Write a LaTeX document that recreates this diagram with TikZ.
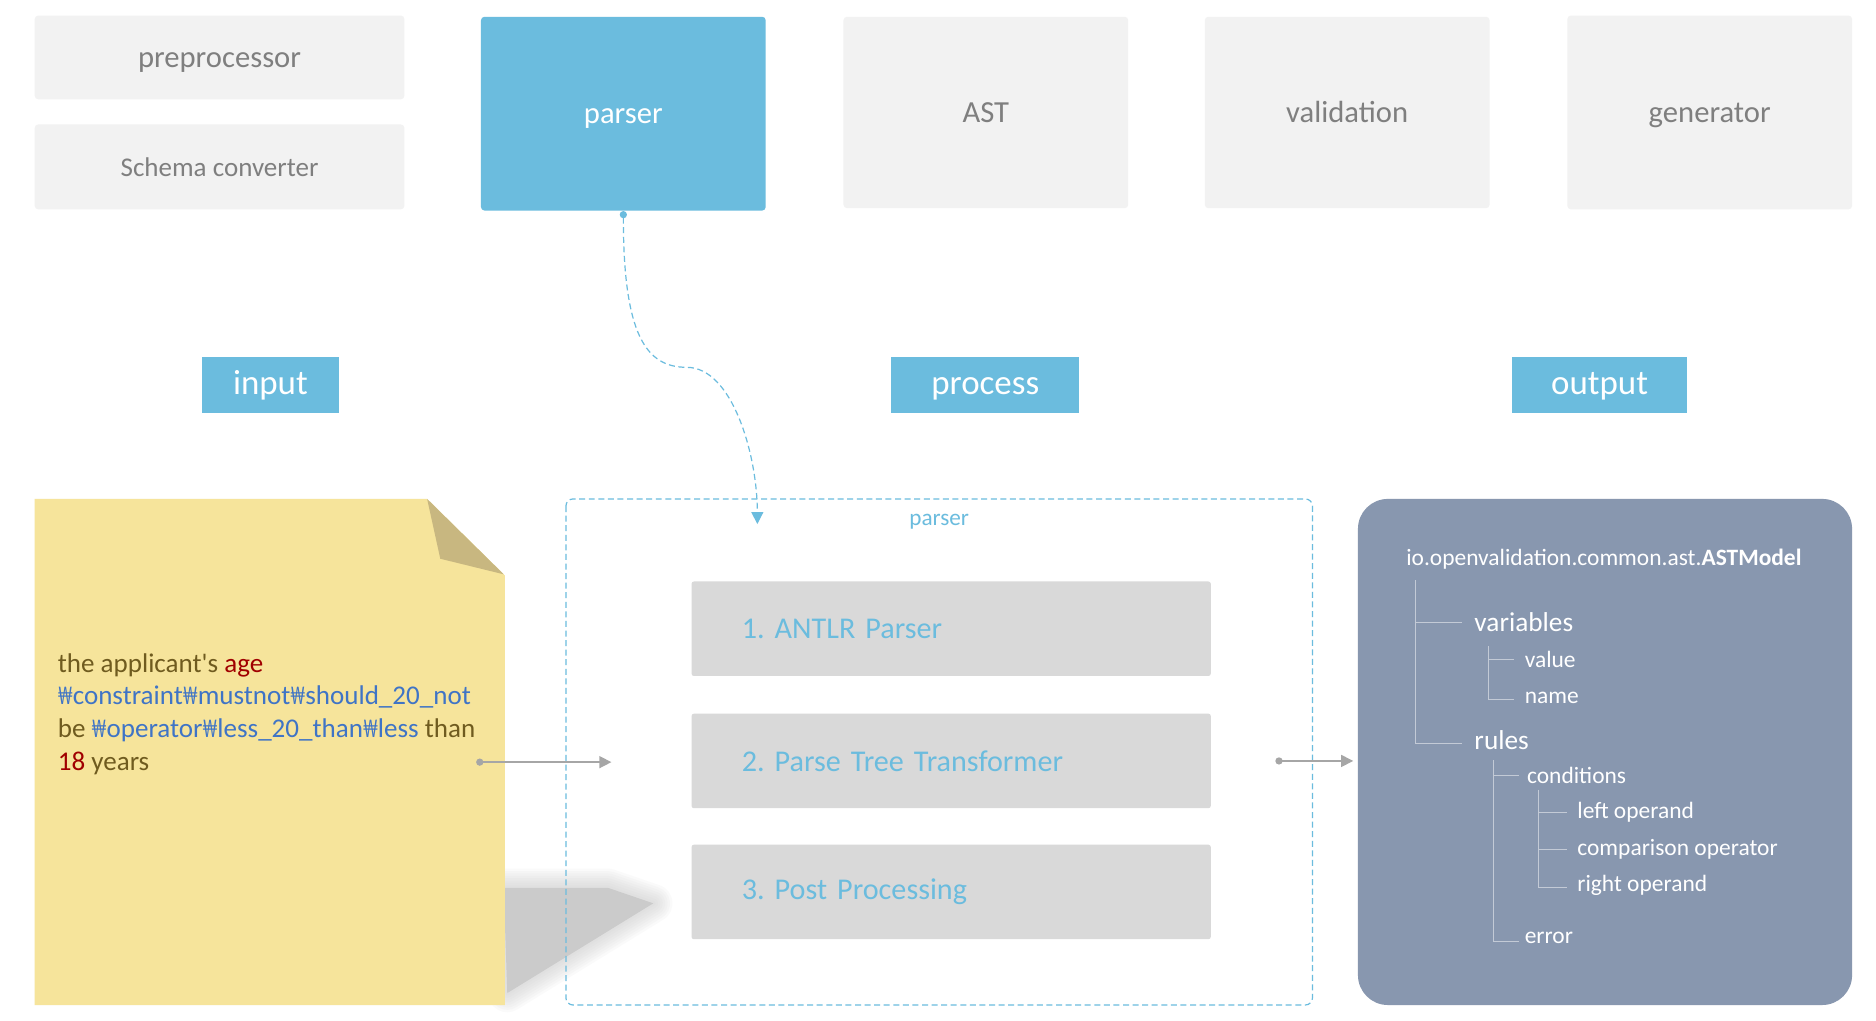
\documentclass[tikz,border=0pt]{standalone}
\usepackage{fontspec}
\usepackage{graphicx}
\setmainfont{Carlito}
\newfontfamily\plainfont{Carlito}
\usetikzlibrary{arrows.meta}
\frenchspacing
\newcommand{\wonsign}{\scalebox{0.62}[1]{₩}}
\definecolor{boxgray}{HTML}{F2F2F2}
\definecolor{txtgray}{HTML}{7F7F7F}
\definecolor{skyb}{HTML}{6BBCDE}
\definecolor{noteyel}{HTML}{F6E49B}
\definecolor{notefold}{HTML}{C8B780}
\definecolor{olivetxt}{HTML}{6F5B1F}
\definecolor{darkredtxt}{HTML}{A00000}
\definecolor{bluetxt}{HTML}{3F74C6}
\definecolor{stepgray}{HTML}{D9D9D9}
\definecolor{astbg}{HTML}{8897AF}
\definecolor{treeline}{HTML}{C3CAD6}
\definecolor{arrgray}{HTML}{A6A6A6}
\definecolor{shadowg}{HTML}{CBCBCB}
\tikzset{
  topbox/.style={fill=boxgray, rounded corners=1.5pt, text=txtgray, inner sep=0pt, text height=0.9em, text depth=0.1em, font=\fontsize{12.8}{15}\selectfont},
  hdrlabel/.style={fill=skyb, text=white, inner sep=0pt, minimum height=23.5pt, text height=0.9em, text depth=0.1em, font=\fontsize{14.6}{17}\selectfont},
  stepbox/.style={fill=stepgray, rounded corners=1pt, text=skyb, minimum height=39.5pt, text width=175pt, inner xsep=21pt, inner ysep=0pt, align=left, font=\fontsize{12.6}{15}\selectfont},
  notetext/.style={anchor=base west, inner sep=0pt, text=olivetxt, font=\plainfont\fontsize{11.3}{13.5}\selectfont},
  treetxt/.style={anchor=west, inner sep=0pt, text=white, font=\fontsize{9.8}{12}\selectfont},
  treebig/.style={treetxt, font=\fontsize{11.4}{14}\selectfont},
  treeln/.style={draw=treeline, line width=0.4pt},
  conn/.style={draw=arrgray, line width=0.6pt, {Circle[length=3pt]}-{Triangle[length=5pt,width=5pt]}},
  curvconn/.style={draw=skyb, line width=0.5pt, dash pattern=on 2.5pt off 1.5pt, {Circle[length=3pt]}-{Triangle[length=5pt,width=5pt]}},
}
\begin{document}
\begin{tikzpicture}[x=0.5pt,y=-0.5pt]
\useasboundingbox[fill=white] (0,0) rectangle (1568,852.6);
% top row
\node[topbox, minimum width=154.5pt, minimum height=35pt] (pre) at (183.5,48) {preprocessor};
\node[topbox, minimum width=154.5pt, minimum height=35.5pt, font=\fontsize{11.3}{14}\selectfont] (schema) at (183.5,139.5) {Schema converter};
\node[topbox, fill=skyb, text=white, minimum width=119pt, minimum height=81pt] (parser) at (521,95) {parser};
\node[topbox, minimum width=119pt, minimum height=80pt] (ast) at (824,94) {AST};
\node[topbox, minimum width=119pt, minimum height=80pt] (valid) at (1126,94) {validation};
\node[topbox, minimum width=119pt, minimum height=81pt] (gen) at (1429,94) {generator};
% section labels
\node[hdrlabel, minimum width=57pt] (input) at (226,321.5) {input};
\node[hdrlabel, minimum width=78.5pt] (process) at (823.5,321.5) {process};
\node[hdrlabel, minimum width=73pt] (output) at (1337,321.5) {output};
% shadow of the note (soft edge)
\foreach \w in {16,14,...,2}{
  \draw[shadowg, line width=\w pt, line join=round, opacity=0.09] (421,742) -- (508,742) -- (546,755) -- (424,830) -- cycle;
}
\fill[shadowg] (421,742) -- (508,742) -- (546,755) -- (424,830) -- cycle;
% note
\fill[noteyel] (29,417) -- (357,417) -- (422,481) -- (422,840) -- (29,840) -- cycle;
\fill[notefold] (357,417) -- (368,467) -- (421,480) -- cycle;
\node[notetext] (l1) at (48,562) {the applicant's \textcolor{darkredtxt}{age}};
\node[notetext, text=bluetxt] (l2) at (48,589) {\wonsign constraint\wonsign mustnot\wonsign should\_20\_not};
\node[notetext] (l3) at (48,616) {be \textcolor{bluetxt}{\wonsign operator\wonsign less\_20\_than\wonsign less} than};
\node[notetext] (l4) at (48,644) {\textcolor{darkredtxt}{18} years};
\coordinate (noteout) at (398,637);
\coordinate (procin) at (511,637);
\draw[conn] (noteout) -- (procin);
% process container
\draw[skyb, line width=0.5pt, dash pattern=on 2.5pt off 1.5pt, rounded corners=3pt] (473,417) rectangle (1097,840);
\node[text=skyb, inner sep=0pt, font=\fontsize{9.7}{12}\selectfont] (plabel) at (785,436) {parser};
\node[stepbox] (s1) at (795,525.5) {1. ANTLR Parser};
\node[stepbox] (s2) at (795,636) {2. Parse Tree Transformer};
\node[stepbox] (s3) at (795,745.5) {3. Post Processing};
\coordinate (procout) at (1066,636);
\coordinate (astin) at (1131,636);
\draw[conn] (procout) -- (astin);
% curved link
\coordinate (ptip) at (633,438);
\draw[curvconn] (parser.south) .. controls (521,280) and (540,307) .. (574,307) .. controls (612,307) and (633,380) .. (ptip);
% AST model box
\fill[astbg, rounded corners=12.5pt] (1135,417) rectangle (1548,840);
\node[treetxt] (hdr) at (1175,467) {io.openvalidation.common.ast.\textbf{ASTModel}};
\node[treebig] (vars) at (1232,520) {variables};
\node[treetxt] (value) at (1274,551) {value};
\node[treetxt] (name) at (1274,583) {name};
\node[treebig] (rules) at (1232,619) {rules};
\node[treetxt] (cond) at (1276,648) {conditions};
\node[treetxt] (lop) at (1318,679) {left operand};
\node[treetxt] (cop) at (1318,710) {comparison operator};
\node[treetxt] (rop) at (1318,740) {right operand};
\node[treetxt] (err) at (1274,784) {error};
\draw[treeln] (1183,485) -- (1183,621) -- (1222,621);
\draw[treeln] (1183,520) -- (1222,520);
\draw[treeln] (1244,540) -- (1244,585) -- (1265,585);
\draw[treeln] (1244,551) -- (1265,551);
\draw[treeln] (1248,635) -- (1248,787) -- (1270,787);
\draw[treeln] (1248,648) -- (1270,648);
\draw[treeln] (1286,660) -- (1286,742) -- (1310,742);
\draw[treeln] (1286,679) -- (1310,679);
\draw[treeln] (1286,710) -- (1310,710);
\end{tikzpicture}
\end{document}
